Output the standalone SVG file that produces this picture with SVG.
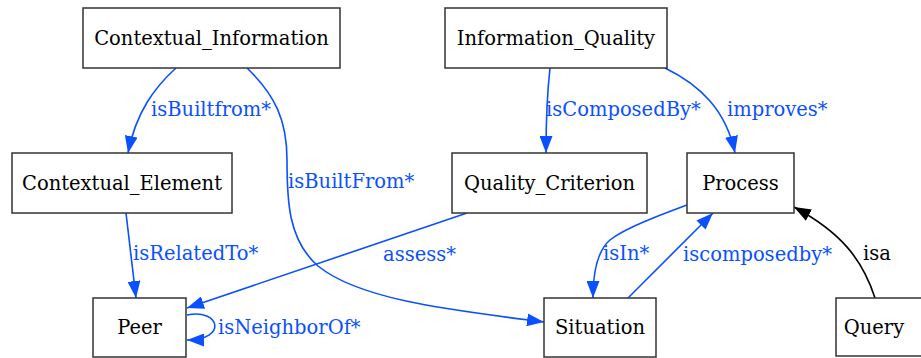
<svg xmlns="http://www.w3.org/2000/svg" width="921" height="358" viewBox="0 0 921 358">
<style>
.n rect{fill:#fff;stroke:#333;stroke-width:1.5}
.n text{font-family:"DejaVu Serif",serif;font-size:19.5px;fill:#000;text-anchor:middle}
.e path{fill:none;stroke:#0a50ff;stroke-width:1.6}
.e path.k{stroke:#000}
.l{font-family:"DejaVu Serif",serif;font-size:19.5px;fill:#0a50ff}
.l.k{fill:#000}
</style>
<defs>
<marker id="a" viewBox="0 0 17 13" refX="17" refY="6.5" markerWidth="17" markerHeight="13" markerUnits="userSpaceOnUse" orient="auto"><path d="M0,0 L17,6.5 L0,13 z" fill="#0a50ff"/></marker>
<marker id="ak" viewBox="0 0 17 13" refX="17" refY="6.5" markerWidth="17" markerHeight="13" markerUnits="userSpaceOnUse" orient="auto"><path d="M0,0 L17,6.5 L0,13 z" fill="#000"/></marker>
</defs>
<rect width="921" height="358" fill="#fff"/>
<g class="e">
<path d="M176,68 C155,87 136,112 128,153" marker-end="url(#a)"/>
<path d="M247,68 C275,95 287,120 287,160 C287,200 288,240 318,266 C360,300 450,310 544,322" marker-end="url(#a)"/>
<path d="M550,68 C547,95 546,125 546,153" marker-end="url(#a)"/>
<path d="M665,68 C700,85 726,110 735,153" marker-end="url(#a)"/>
<path d="M126,213 L136,298" marker-end="url(#a)"/>
<path d="M467,213 L187,308" marker-end="url(#a)"/>
<path d="M187,315 C220,308 228,340 187,340" marker-end="url(#a)"/>
<path d="M687,205 C660,215 625,228 610,240 C596,252 593,275 593,298" marker-end="url(#a)"/>
<path d="M628,298 L713,213" marker-end="url(#a)"/>
<path class="k" d="M875,298 C862,258 840,232 794,207" marker-end="url(#ak)"/>
</g>
<g class="labels">
<text class="l" x="151" y="116">isBuiltfrom*</text>
<text class="l" x="288" y="188">isBuiltFrom*</text>
<text class="l" x="546" y="116">isComposedBy*</text>
<text class="l" x="727" y="116">improves*</text>
<text class="l" x="133" y="260">isRelatedTo*</text>
<text class="l" x="383" y="261">assess*</text>
<text class="l" x="218" y="334">isNeighborOf*</text>
<text class="l" x="603" y="260">isIn*</text>
<text class="l" x="683" y="261">iscomposedby*</text>
<text class="l k" x="863" y="260">isa</text>
</g>
<g id="Contextual_Information" class="n"><rect x="83" y="8" width="257" height="60"/><text x="211.5" y="45">Contextual_Information</text></g>
<g id="Information_Quality" class="n"><rect x="445" y="8" width="222" height="60"/><text x="556" y="45">Information_Quality</text></g>
<g id="Contextual_Element" class="n"><rect x="12" y="153" width="220" height="60"/><text x="122" y="190">Contextual_Element</text></g>
<g id="Quality_Criterion" class="n"><rect x="452" y="153" width="195" height="60"/><text x="549.5" y="190">Quality_Criterion</text></g>
<g id="Process" class="n"><rect x="687" y="153" width="107" height="60"/><text x="740.5" y="190">Process</text></g>
<g id="Peer" class="n"><rect x="93" y="298" width="93" height="59"/><text x="139.5" y="334">Peer</text></g>
<g id="Situation" class="n"><rect x="544" y="298" width="112" height="59"/><text x="600" y="334">Situation</text></g>
<g id="Query" class="n"><rect x="836" y="298" width="100" height="58"/><text x="874" y="334">Query</text></g>
</svg>
